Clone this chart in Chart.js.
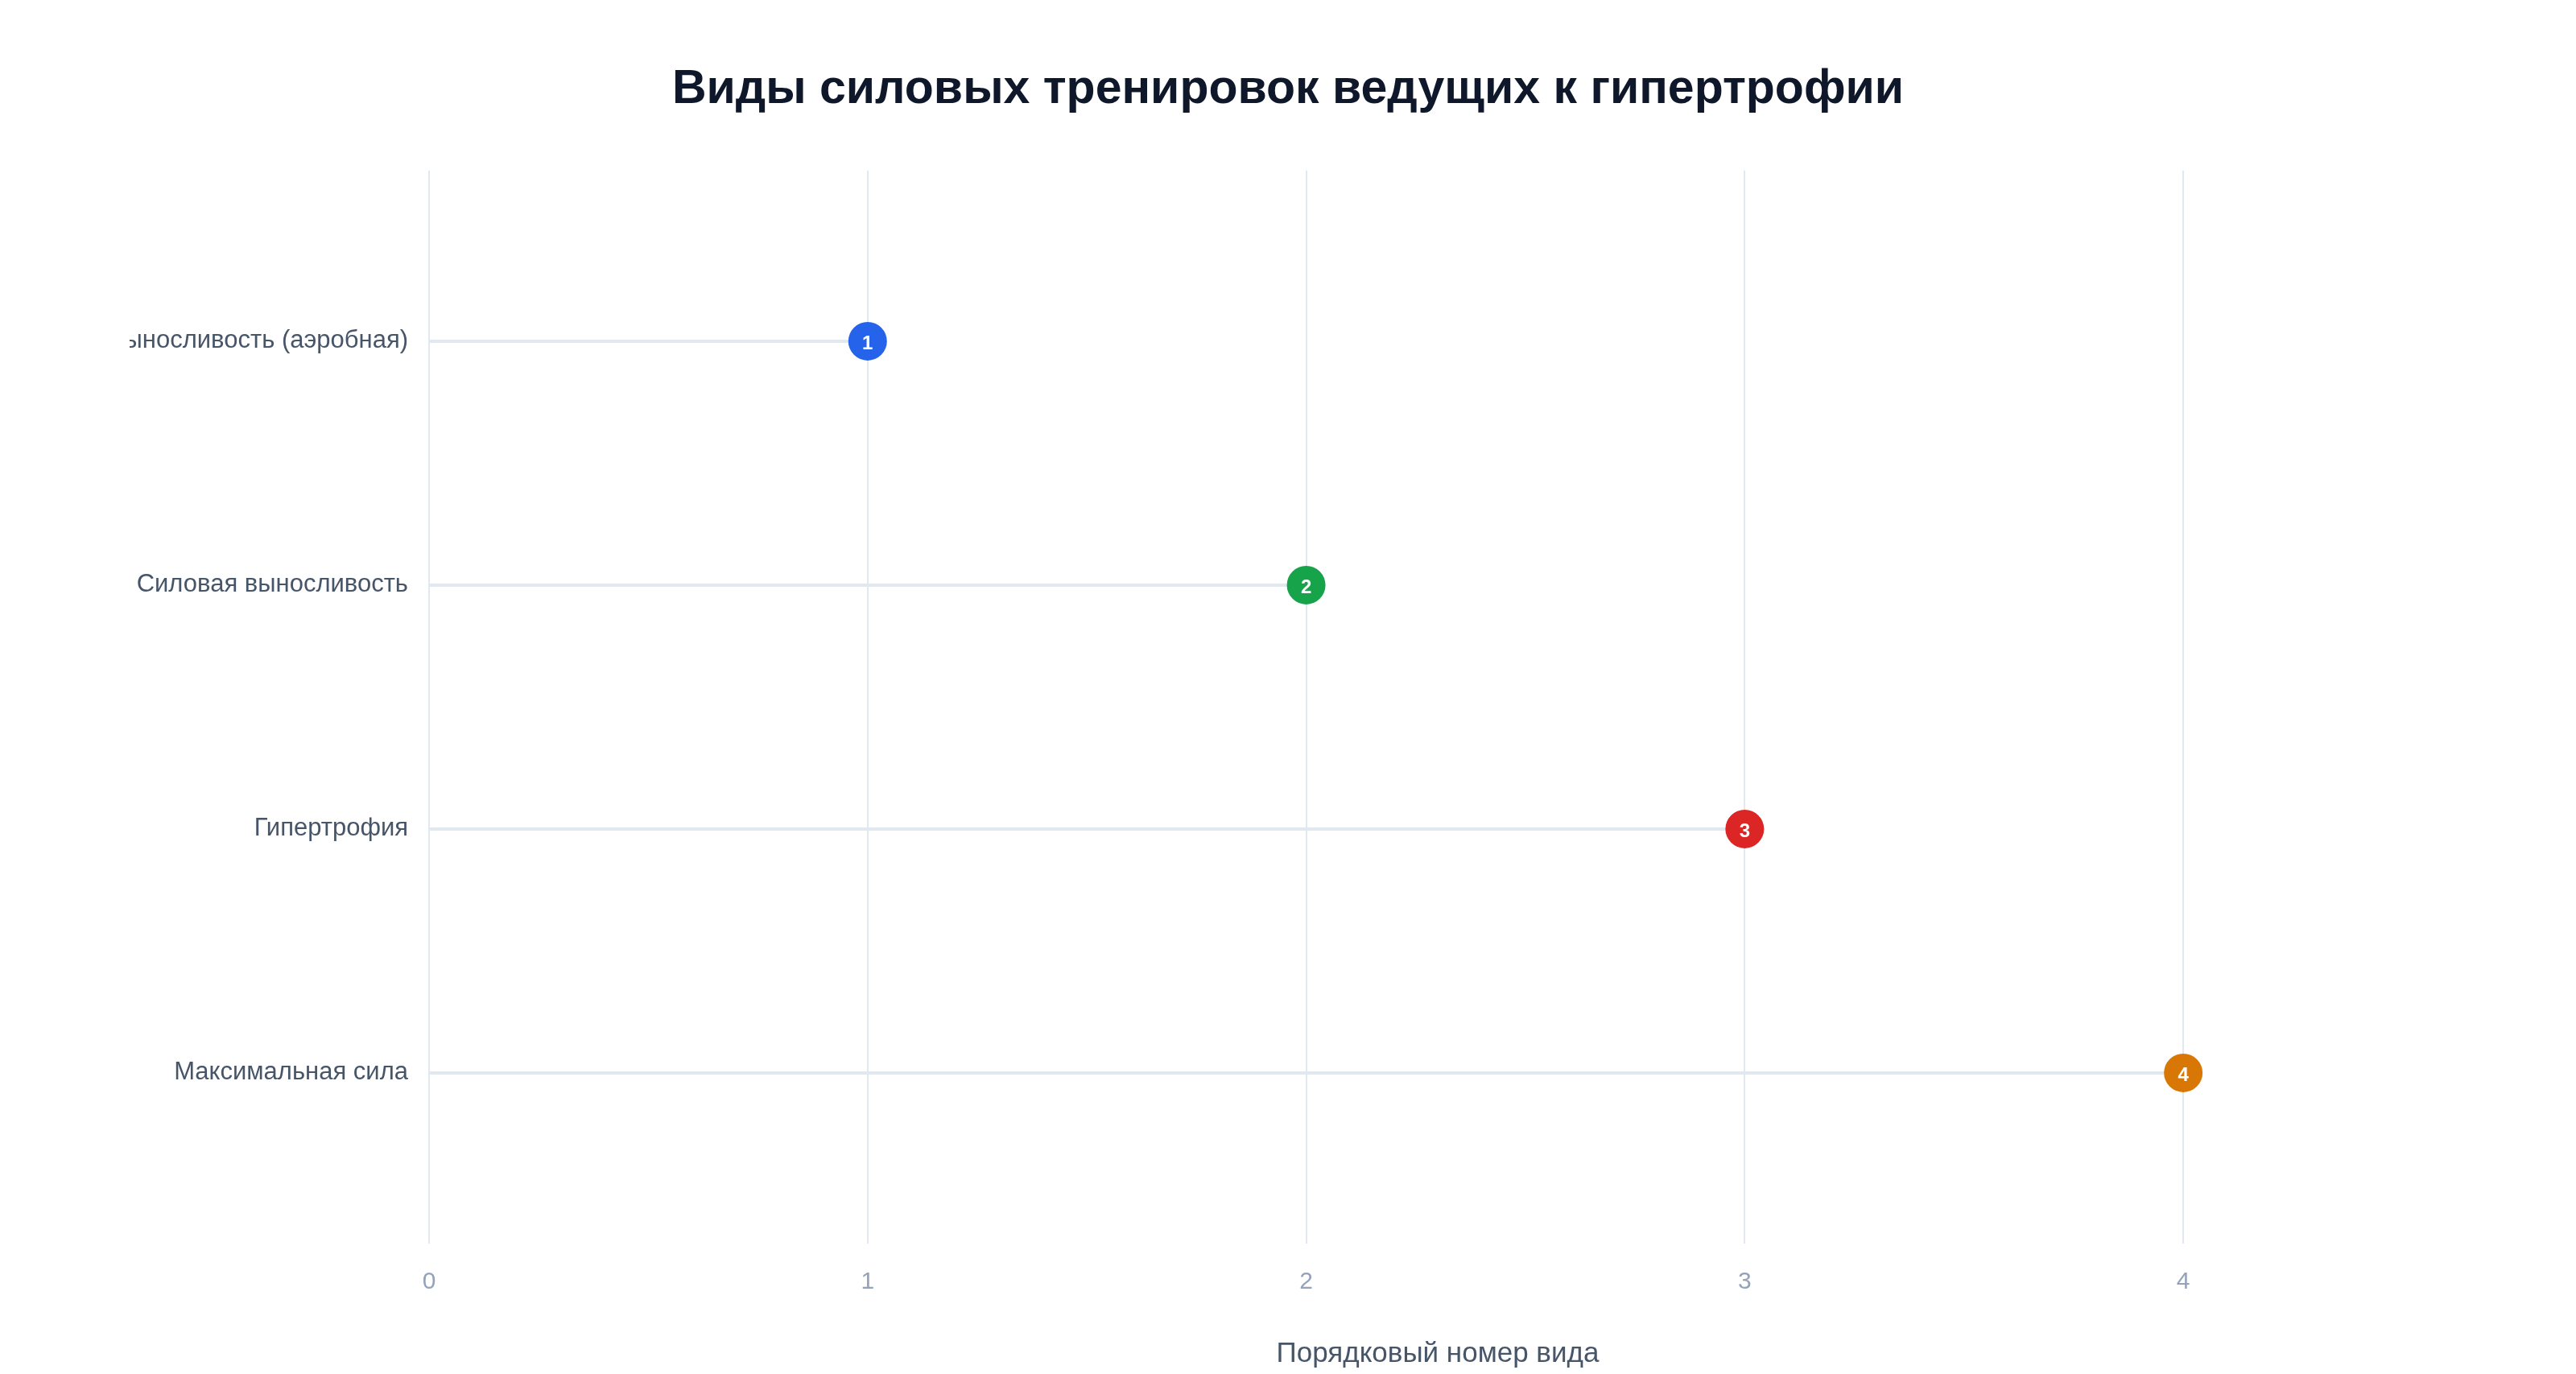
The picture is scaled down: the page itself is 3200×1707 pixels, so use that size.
<!DOCTYPE html>
<html><head><meta charset="utf-8">
<script src="https://cdn.jsdelivr.net/npm/chart.js@4"></script>
<style>html,body{margin:0;padding:0;background:#fff}#w{width:3200px;height:1707px}</style>
</head><body><div id="w"><canvas id="c"></canvas></div>
<script>
const categories = ["Выносливость (аэробная)", "Силовая выносливость", "Гипертрофия", "Максимальная сила"];
const values = [1, 2, 3, 4];
const colors = ["#2563eb", "#16a34a", "#dc2626", "#d97706"];
const xTicks = [0, 1, 2, 3, 4];

const font = "Liberation Sans, Arial, sans-serif";
const stems = categories.map((c, i) => ({
  type: 'line', data: [{x: 0, y: i}, {x: values[i], y: i}],
  borderColor: '#e2e8f0', borderWidth: 4, pointRadius: 0, order: 2
}));
const pts = {
  type: 'scatter', data: values.map((v, i) => ({x: v, y: i})),
  backgroundColor: colors, borderColor: '#ffffff', borderWidth: 0,
  pointRadius: 24, pointHoverRadius: 24, order: 1
};
const labelPlugin = {
  id: 'lbl',
  afterDatasetsDraw(chart) {
    const meta = chart.getDatasetMeta(chart.data.datasets.length - 1);
    const ctx = chart.ctx;
    ctx.save();
    ctx.fillStyle = '#fff';
    ctx.font = 'bold 24px ' + font;
    ctx.textAlign = 'center'; ctx.textBaseline = 'middle';
    meta.data.forEach((el, i) => ctx.fillText(String(values[i]), el.x, el.y + 3));
    ctx.restore();
  }
};
new Chart(document.getElementById('c'), {
  data: { datasets: [...stems, pts] },
  plugins: [labelPlugin],
  options: {
    responsive: true, maintainAspectRatio: false, animation: false,
    layout: { padding: { left: 161, right: 161, top: 0, bottom: 0 } },
    plugins: {
      legend: { display: false }, tooltip: { enabled: false },
      title: { display: true, text: 'Виды силовых тренировок ведущих к гипертрофии',
        color: '#0f172a', font: { family: font, size: 59, weight: 'bold' },
        padding: { top: 76, bottom: 65 } }
    },
    scales: {
      x: { type: 'linear', min: 0, max: 4.6,
        afterBuildTicks: s => { s.ticks = xTicks.map(v => ({value: v})); },
        afterFit: s => { s.height = 162; },
        grid: { color: '#e2e8f0', lineWidth: 2, drawTicks: false },
        border: { display: false },
        ticks: { color: '#94a3b8', font: { family: font, size: 30 }, padding: 30 },
        title: { display: true, text: 'Порядковый номер вида', color: '#475569',
          font: { family: font, size: 35 }, padding: { top: 22 } } },
      y: { type: 'linear', min: -0.7, max: 3.7, reverse: true,
        afterBuildTicks: s => { s.ticks = categories.map((c, i) => ({value: i})); },
        afterFit: s => { s.width = 372; },
        grid: { display: false }, border: { display: false },
        ticks: { color: '#475569', font: { family: font, size: 31 }, padding: 18,
          callback: v => categories[v] } }
    }
  }
});
</script></body></html>
